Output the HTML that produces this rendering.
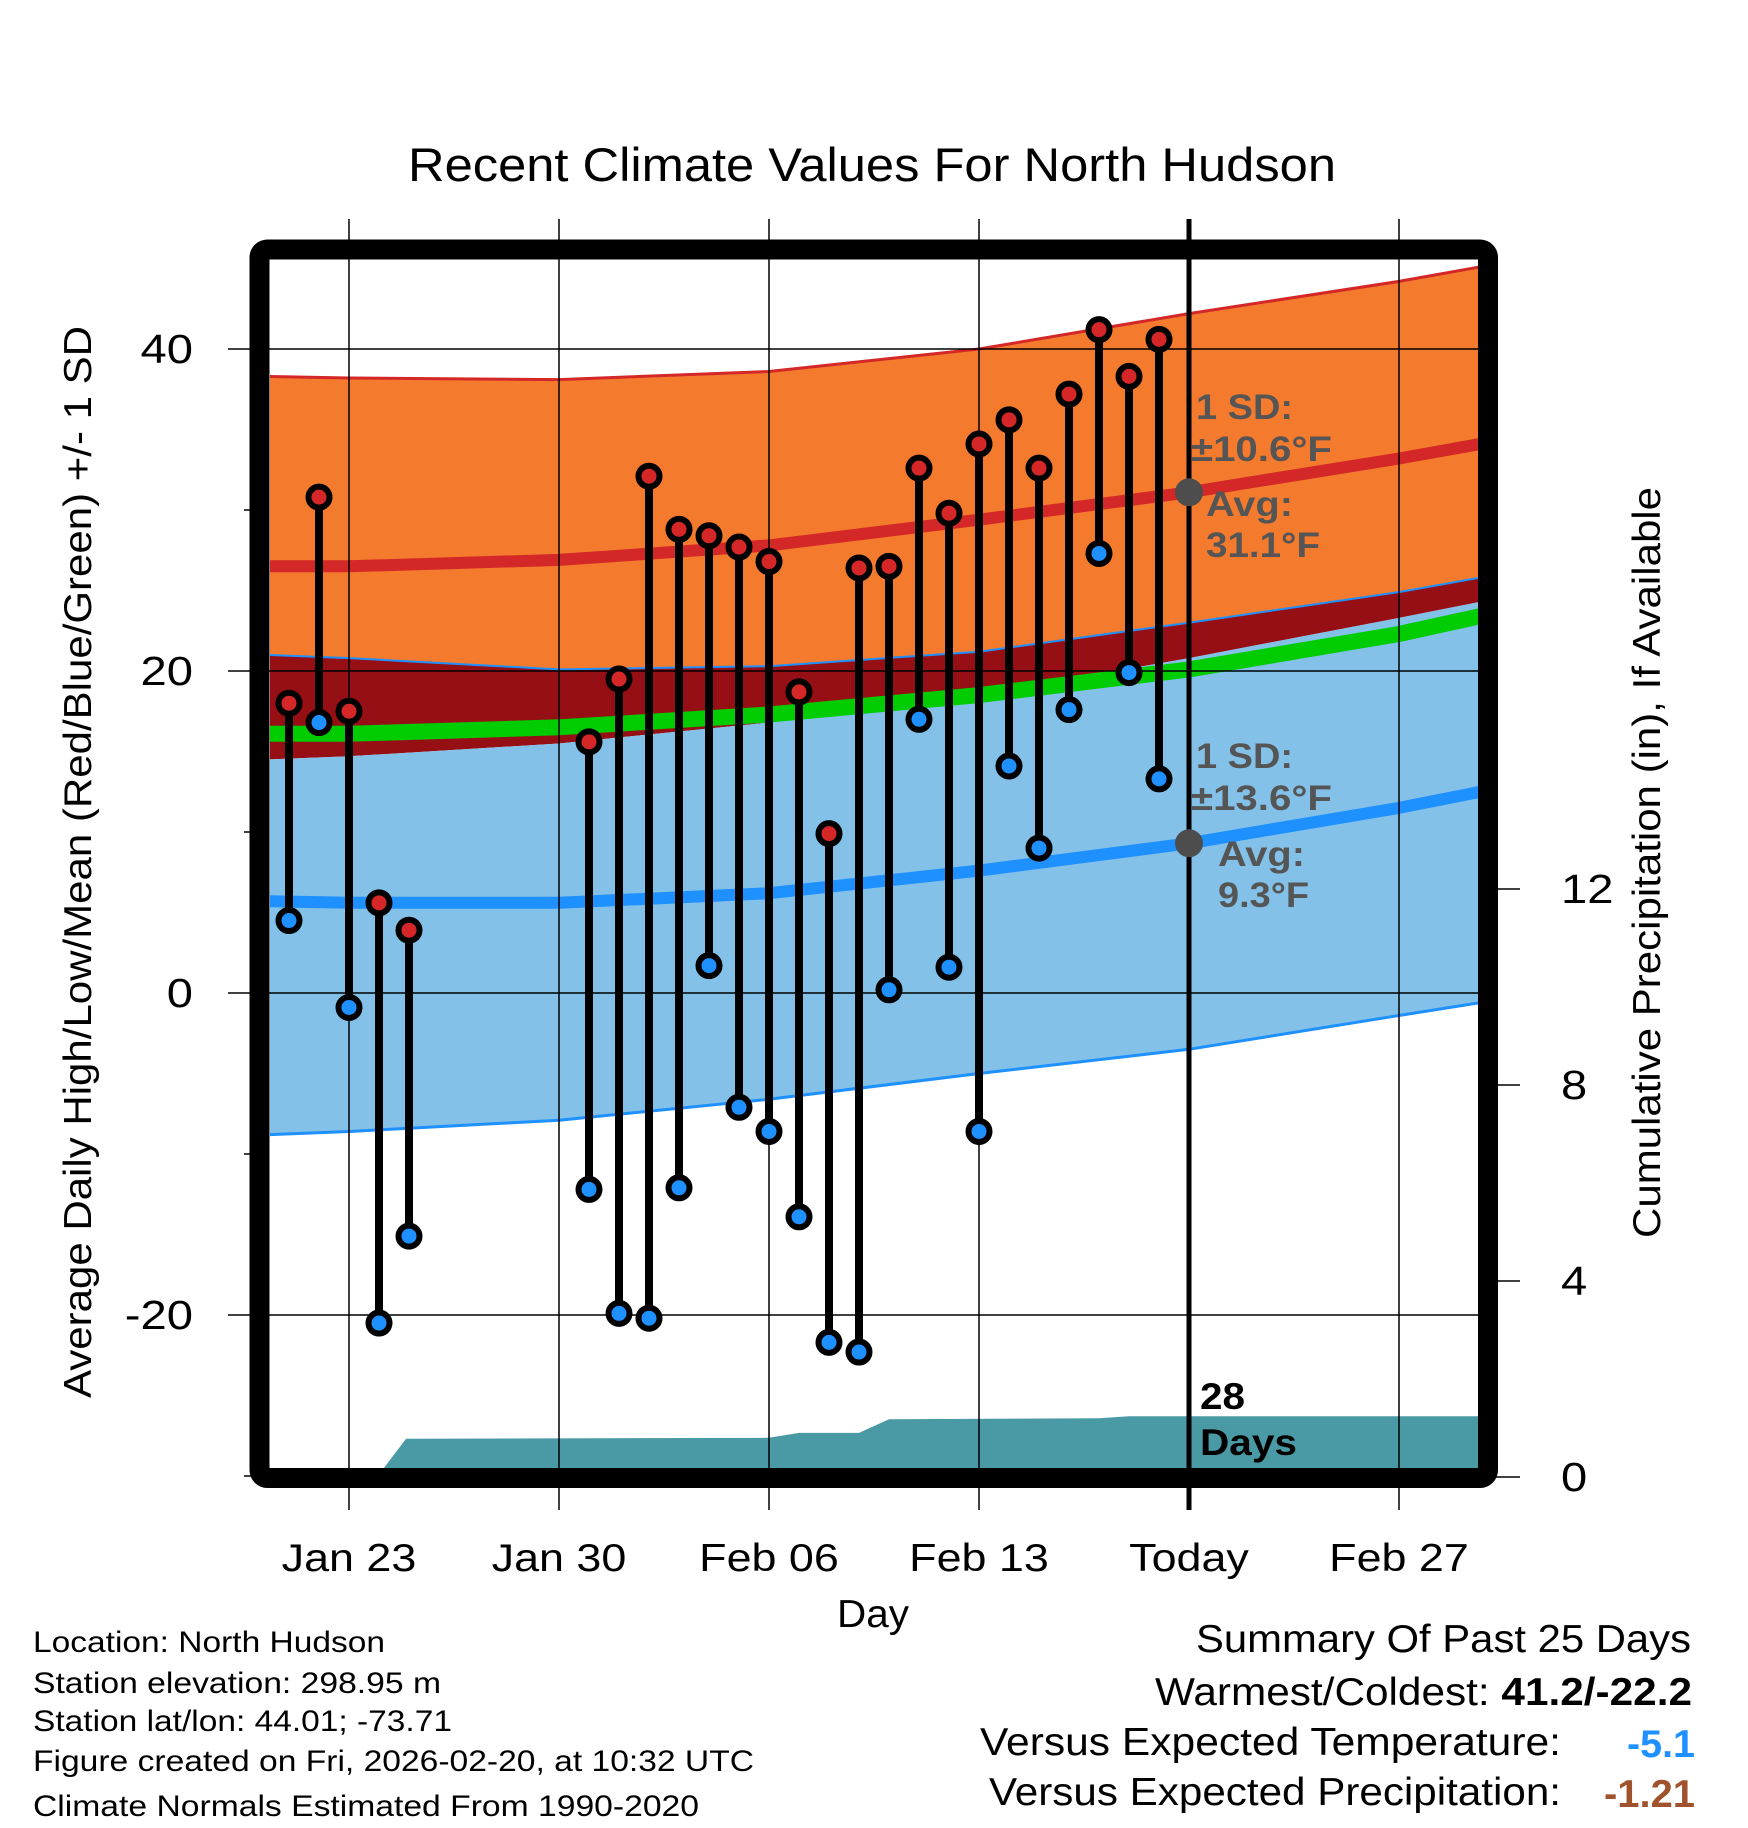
<!DOCTYPE html>
<html><head><meta charset="utf-8"><style>
html,body{margin:0;padding:0;background:#fff;}
svg{display:block;font-family:"Liberation Sans",Arial,sans-serif;}
</style></head><body>
<svg id="chart" width="1748" height="1828" viewBox="0 0 1748 1828" xmlns="http://www.w3.org/2000/svg">
<defs><clipPath id="plotclip"><rect x="270" y="260" width="1208" height="1208"/></clipPath></defs>
<g id="bands" clip-path="url(#plotclip)"></g>
<g id="grid"></g>
<g id="marks"></g>
<rect x="259.5" y="249.5" width="1228.5" height="1228.5" rx="8" fill="none" stroke="#000" stroke-width="20"/>
<g id="axes"></g>
<text x="408" y="181" font-size="47" textLength="928" lengthAdjust="spacingAndGlyphs">Recent Climate Values For North Hudson</text>
<text x="837" y="1627" font-size="39" textLength="72" lengthAdjust="spacingAndGlyphs">Day</text>
<text transform="translate(91,1398) rotate(-90)" font-size="39" textLength="1072" lengthAdjust="spacingAndGlyphs">Average Daily High/Low/Mean (Red/Blue/Green) +/- 1 SD</text>
<text transform="translate(1660,1238) rotate(-90)" font-size="39" textLength="751" lengthAdjust="spacingAndGlyphs">Cumulative Precipitation (in), If Available</text>
<g font-size="35" fill="#555" font-weight="bold">
<text x="1196" y="419" textLength="97" lengthAdjust="spacingAndGlyphs">1 SD:</text>
<text x="1191" y="461" textLength="141" lengthAdjust="spacingAndGlyphs">±10.6°F</text>
<text x="1206" y="516" textLength="87" lengthAdjust="spacingAndGlyphs">Avg:</text>
<text x="1206" y="557" textLength="114" lengthAdjust="spacingAndGlyphs">31.1°F</text>
<text x="1196" y="768" textLength="97" lengthAdjust="spacingAndGlyphs">1 SD:</text>
<text x="1191" y="810" textLength="141" lengthAdjust="spacingAndGlyphs">±13.6°F</text>
<text x="1218" y="866" textLength="87" lengthAdjust="spacingAndGlyphs">Avg:</text>
<text x="1218" y="907" textLength="91" lengthAdjust="spacingAndGlyphs">9.3°F</text>
</g>
<text x="1200" y="1409" font-size="37" font-weight="bold" textLength="45" lengthAdjust="spacingAndGlyphs">28</text>
<text x="1200" y="1455" font-size="37" font-weight="bold" textLength="97" lengthAdjust="spacingAndGlyphs">Days</text>
<g font-size="30">
<text x="33" y="1652" textLength="352" lengthAdjust="spacingAndGlyphs">Location: North Hudson</text>
<text x="33" y="1693" textLength="408" lengthAdjust="spacingAndGlyphs">Station elevation: 298.95 m</text>
<text x="33" y="1731" textLength="419" lengthAdjust="spacingAndGlyphs">Station lat/lon: 44.01; -73.71</text>
<text x="33" y="1771" textLength="721" lengthAdjust="spacingAndGlyphs">Figure created on Fri, 2026-02-20, at 10:32 UTC</text>
<text x="33" y="1816" textLength="666" lengthAdjust="spacingAndGlyphs">Climate Normals Estimated From 1990-2020</text>
</g>
<g font-size="39">
<text x="1196" y="1652" textLength="495" lengthAdjust="spacingAndGlyphs">Summary Of Past 25 Days</text>
<text x="1155" y="1705" textLength="537" lengthAdjust="spacingAndGlyphs">Warmest/Coldest: <tspan font-weight="bold">41.2/-22.2</tspan></text>
<text x="980" y="1755" textLength="581" lengthAdjust="spacingAndGlyphs">Versus Expected Temperature:</text>
<text x="1627" y="1757" font-weight="bold" fill="#1e90ff" textLength="68" lengthAdjust="spacingAndGlyphs">-5.1</text>
<text x="989" y="1805" textLength="572" lengthAdjust="spacingAndGlyphs">Versus Expected Precipitation:</text>
<text x="1604" y="1807" font-weight="bold" fill="#a0522d" textLength="91" lengthAdjust="spacingAndGlyphs">-1.21</text>
</g>
</svg>
<script>
// days relative to Jan 23 (0)
const obsDays = [-2,-1,0,1,2,8,9,10,11,12,13,14,15,16,17,18,19,20,21,22,23,24,25,26,27];
const obsHigh = [18.0,30.8,17.5,5.6,3.9,15.6,19.5,32.1,28.8,28.4,27.7,26.8,18.7,9.9,26.4,26.5,32.6,29.8,34.1,35.6,32.6,37.2,41.2,38.3,40.6];
const obsLow  = [4.5,16.8,-0.9,-20.5,-15.1,-12.2,-19.9,-20.2,-12.1,1.7,-7.1,-8.6,-13.9,-21.7,-22.3,0.2,17.0,1.6,-8.6,14.1,9.0,17.6,27.3,19.9,13.3];
const climDays = [-2.7,0,7,14,21,28,35,37.7];
const highTop  = [38.3,38.2,38.1,38.6,40.0,42.2,44.2,45.1];
const highMean = [26.5,26.5,26.9,27.8,29.4,31.1,33.2,34.1];
const highBot  = [21.0,20.8,20.1,20.3,21.2,23.0,24.9,25.8];
const meanTemp = [16.1,16.1,16.5,17.3,18.5,20.1,22.3,23.4];
const lowTop   = [14.5,14.7,15.5,16.8,18.5,20.8,23.3,24.3];
const lowMean  = [5.7,5.6,5.6,6.2,7.6,9.3,11.5,12.5];
const lowBot   = [-8.8,-8.6,-7.9,-6.6,-5.0,-3.5,-1.4,-0.6];
const precipDays = [-1.5,0.9,1.0,1.9,14.0,15.0,16.0,17.0,18.0,25.0,26.0,37.7];
const precipVals = [0.0,0.05,0.05,0.78,0.8,0.9,0.9,0.9,1.18,1.2,1.24,1.24];
const xTickDays = [0,7,14,21,28,35];
const xTickLabels = ["Jan 23","Jan 30","Feb 06","Feb 13","Today","Feb 27"];
const yTicks = [40,20,0,-20];
const yMinor = [30,10,-10,-30];
const y2Ticks = [0,4,8,12];
const todayDay = 28;
const todayHighAvg = 31.1, todayLowAvg = 9.3;

const NS="http://www.w3.org/2000/svg";
const X = d => 349 + 30*d;
const Y = v => 993 - 16.1*v;
const Y2 = p => 1477 - 49*p;
function el(tag, attrs, parent){const e=document.createElementNS(NS,tag);for(const k in attrs)e.setAttribute(k,attrs[k]);parent.appendChild(e);return e;}
function line(xs, ys){return xs.map((d,i)=>(i?'L':'M')+X(d).toFixed(1)+','+Y(ys[i]).toFixed(1)).join(' ');}
function band(xs, top, bot){let p=line(xs,top);for(let i=xs.length-1;i>=0;i--)p+='L'+X(xs[i]).toFixed(1)+','+Y(bot[i]).toFixed(1);return p+'Z';}
function stretch(t){try{const w=t.getComputedTextLength();t.setAttribute('textLength',(w*1.15).toFixed(1));t.setAttribute('lengthAdjust','spacingAndGlyphs');}catch(err){}}
const bands=document.getElementById('bands'), grid=document.getElementById('grid'), marks=document.getElementById('marks'), axes=document.getElementById('axes');

let e;
e=el('path',{d:band(climDays,highTop,highBot),fill:'#f47a2e'},bands);


e=el('path',{d:band(climDays,highBot,lowTop),fill:'#960f15'},bands);


e=el('path',{d:band(climDays,lowTop,lowBot),fill:'#83c1e8'},bands);


e=el('path',{d:line(climDays,highTop),fill:'none',stroke:'#d42727','stroke-width':3},bands);


e=el('path',{d:line(climDays,highBot),fill:'none',stroke:'#1e90ff','stroke-width':2},bands);


e=el('path',{d:line(climDays,lowBot),fill:'none',stroke:'#1e90ff','stroke-width':3},bands);


e=el('path',{d:line(climDays,meanTemp),fill:'none',stroke:'#00cc00','stroke-width':16},bands);


e=el('path',{d:line(climDays,highMean),fill:'none',stroke:'#d42727','stroke-width':12},bands);


e=el('path',{d:line(climDays,lowMean),fill:'none',stroke:'#1e90ff','stroke-width':12},bands);


let pp='M'+X(precipDays[0])+','+Y2(0);
precipDays.forEach((d,i)=>{pp+='L'+X(d).toFixed(1)+','+Y2(precipVals[i]).toFixed(1);});
pp+='L'+X(precipDays[precipDays.length-1])+','+Y2(0)+'Z';
e=el('path',{d:pp,fill:'#4a9aa5'},bands);



yTicks.forEach(v=>{
  e=el('line',{x1:228,x2:1488,y1:Y(v),y2:Y(v),stroke:'#000','stroke-width':1.5},grid);
  
  
});
xTickDays.forEach((d,i)=>{
  if(xTickLabels[i]==='Today') return;
  e=el('line',{x1:X(d),x2:X(d),y1:219,y2:1510,stroke:'#000','stroke-width':1.5},grid);
  
  
});
e=el('line',{x1:X(todayDay),x2:X(todayDay),y1:219,y2:1510,stroke:'#000','stroke-width':5},grid);



obsDays.forEach((d,i)=>{
  e=el('line',{x1:X(d),x2:X(d),y1:Y(obsHigh[i]),y2:Y(obsLow[i]),stroke:'#000','stroke-width':8},marks);
  
  
});
obsDays.forEach((d,i)=>{
  e=el('circle',{cx:X(d),cy:Y(obsHigh[i]),r:10.5,fill:'#d62728',stroke:'#000','stroke-width':6},marks);
  
  
  e=el('circle',{cx:X(d),cy:Y(obsLow[i]),r:10.5,fill:'#1e90ff',stroke:'#000','stroke-width':6},marks);
  
  
});
e=el('circle',{cx:X(todayDay),cy:Y(todayHighAvg),r:14,fill:'#4d4d4d'},marks);


e=el('circle',{cx:X(todayDay),cy:Y(todayLowAvg),r:14,fill:'#4d4d4d'},marks);



yTicks.forEach(v=>{
  e=el('text',{x:193,y:Y(v)+14,'font-size':41,'text-anchor':'end'},axes);
  e.textContent=String(v);
  
  
  stretch(e);
});
yMinor.forEach(v=>{
  e=el('line',{x1:244,x2:252,y1:Y(v),y2:Y(v),stroke:'#000','stroke-width':1.5},axes);
  
  
});
y2Ticks.forEach(p=>{
  e=el('line',{x1:1496,x2:1520,y1:Y2(p),y2:Y2(p),stroke:'#000','stroke-width':1.5},axes);
  
  
  e=el('text',{x:1561,y:Y2(p)+14,'font-size':41},axes);
  e.textContent=String(p);
  
  
  stretch(e);
});
xTickDays.forEach((d,i)=>{
  e=el('text',{x:X(d),y:1571,'font-size':39,'text-anchor':'middle'},axes);
  e.textContent=xTickLabels[i];
  
  
  stretch(e);
});
</script>
</body></html>
